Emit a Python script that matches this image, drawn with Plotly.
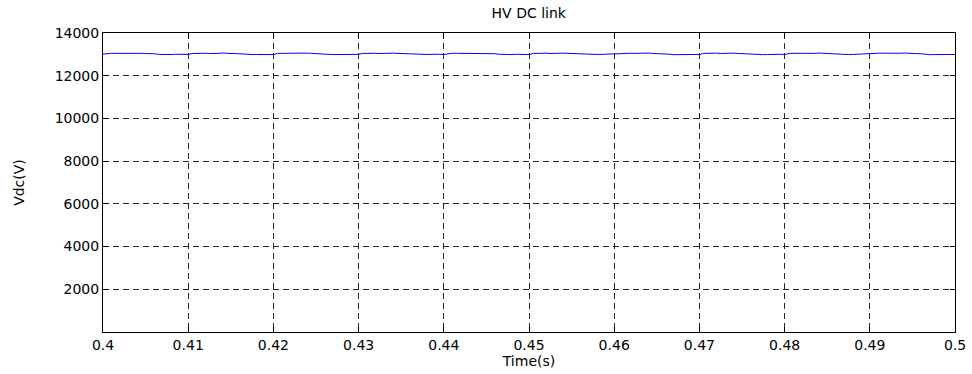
import plotly.graph_objects as go

# Time samples (s), step 0.0005 from 0.4 to 0.5
time_start = 0.4
time_step = 0.0005
# DC-link voltage readings (V), 201 samples
vdc = [
    13010, 13040, 13050, 13045, 13050, 13045, 13060, 13045, 13055, 13045,
    13040, 13040, 13030, 13000, 12990, 12985, 12990, 13005, 13010, 13005,
    12995, 13040, 13055, 13050, 13050, 13040, 13060, 13045, 13060, 13040,
    13040, 13035, 13030, 13005, 12990, 12990, 12995, 13000, 13010, 13005,
    12990, 13045, 13050, 13050, 13055, 13045, 13055, 13050, 13060, 13045,
    13040, 13040, 13025, 13000, 12990, 12990, 12995, 13005, 13010, 13000,
    13000, 13045, 13055, 13045, 13050, 13040, 13060, 13050, 13055, 13045,
    13040, 13035, 13030, 13000, 12985, 12990, 12995, 13000, 13010, 13005,
    12995, 13040, 13050, 13050, 13050, 13045, 13060, 13045, 13060, 13040,
    13040, 13040, 13030, 13005, 12990, 12985, 12990, 13005, 13010, 13000,
    12990, 13045, 13055, 13045, 13055, 13040, 13060, 13050, 13055, 13045,
    13040, 13035, 13025, 13000, 12990, 12990, 12995, 13000, 13010, 13005,
    13000, 13040, 13050, 13050, 13050, 13045, 13055, 13045, 13060, 13045,
    13040, 13040, 13030, 13005, 12985, 12990, 12995, 13005, 13010, 13000,
    12995, 13045, 13055, 13050, 13055, 13040, 13060, 13050, 13055, 13040,
    13040, 13035, 13030, 13000, 12990, 12985, 12990, 13000, 13010, 13005,
    12990, 13040, 13050, 13045, 13050, 13045, 13060, 13045, 13060, 13045,
    13040, 13040, 13025, 13005, 12990, 12990, 12995, 13005, 13010, 13000,
    13000, 13045, 13055, 13050, 13050, 13040, 13055, 13050, 13060, 13040,
    13040, 13035, 13030, 13000, 12985, 12990, 12995, 13000, 13010, 13005,
    12995,
]
time = [round(time_start + i * time_step, 4) for i in range(len(vdc))]

x_ticks = [0.4, 0.41, 0.42, 0.43, 0.44, 0.45, 0.46, 0.47, 0.48, 0.49, 0.5]
x_tick_labels = ["0.4", "0.41", "0.42", "0.43", "0.44", "0.45", "0.46", "0.47", "0.48", "0.49", "0.5"]
y_ticks = [2000, 4000, 6000, 8000, 10000, 12000, 14000]
y_tick_labels = ["2000", "4000", "6000", "8000", "10000", "12000", "14000"]

fig = go.Figure()
fig.add_trace(go.Scatter(x=time, y=vdc, mode="lines",
                         line=dict(color="#0000ff", width=1), showlegend=False))

font = dict(family="DejaVu Sans, Verdana, sans-serif", size=14, color="black")
axis_common = dict(
    showline=True, linecolor="black", linewidth=1, mirror="ticks",
    ticks="inside", ticklen=5, tickcolor="black", tickwidth=1,
    showgrid=True, gridcolor="rgba(0,0,0,0.85)", griddash="6px,4px", gridwidth=1,
    zeroline=False, tickfont=font, automargin=False,
)
fig.update_xaxes(range=[0.4, 0.5], tickvals=x_ticks, ticktext=x_tick_labels,
                 title=dict(text="Time(s)", font=font, standoff=4), **axis_common)
fig.update_yaxes(range=[0, 14000], tickvals=y_ticks, ticktext=y_tick_labels,
                 title=dict(text="Vdc(V)", font=font, standoff=26), **axis_common)
fig.update_layout(
    width=972, height=374,
    margin=dict(l=103, r=17, t=33, b=42, autoexpand=False),
    paper_bgcolor="white", plot_bgcolor="white",
    title=dict(text="HV DC link", font=font, x=0.544, xanchor="center", y=0.965,
               yanchor="middle", automargin=False),
)
fig.write_html("out.html")
